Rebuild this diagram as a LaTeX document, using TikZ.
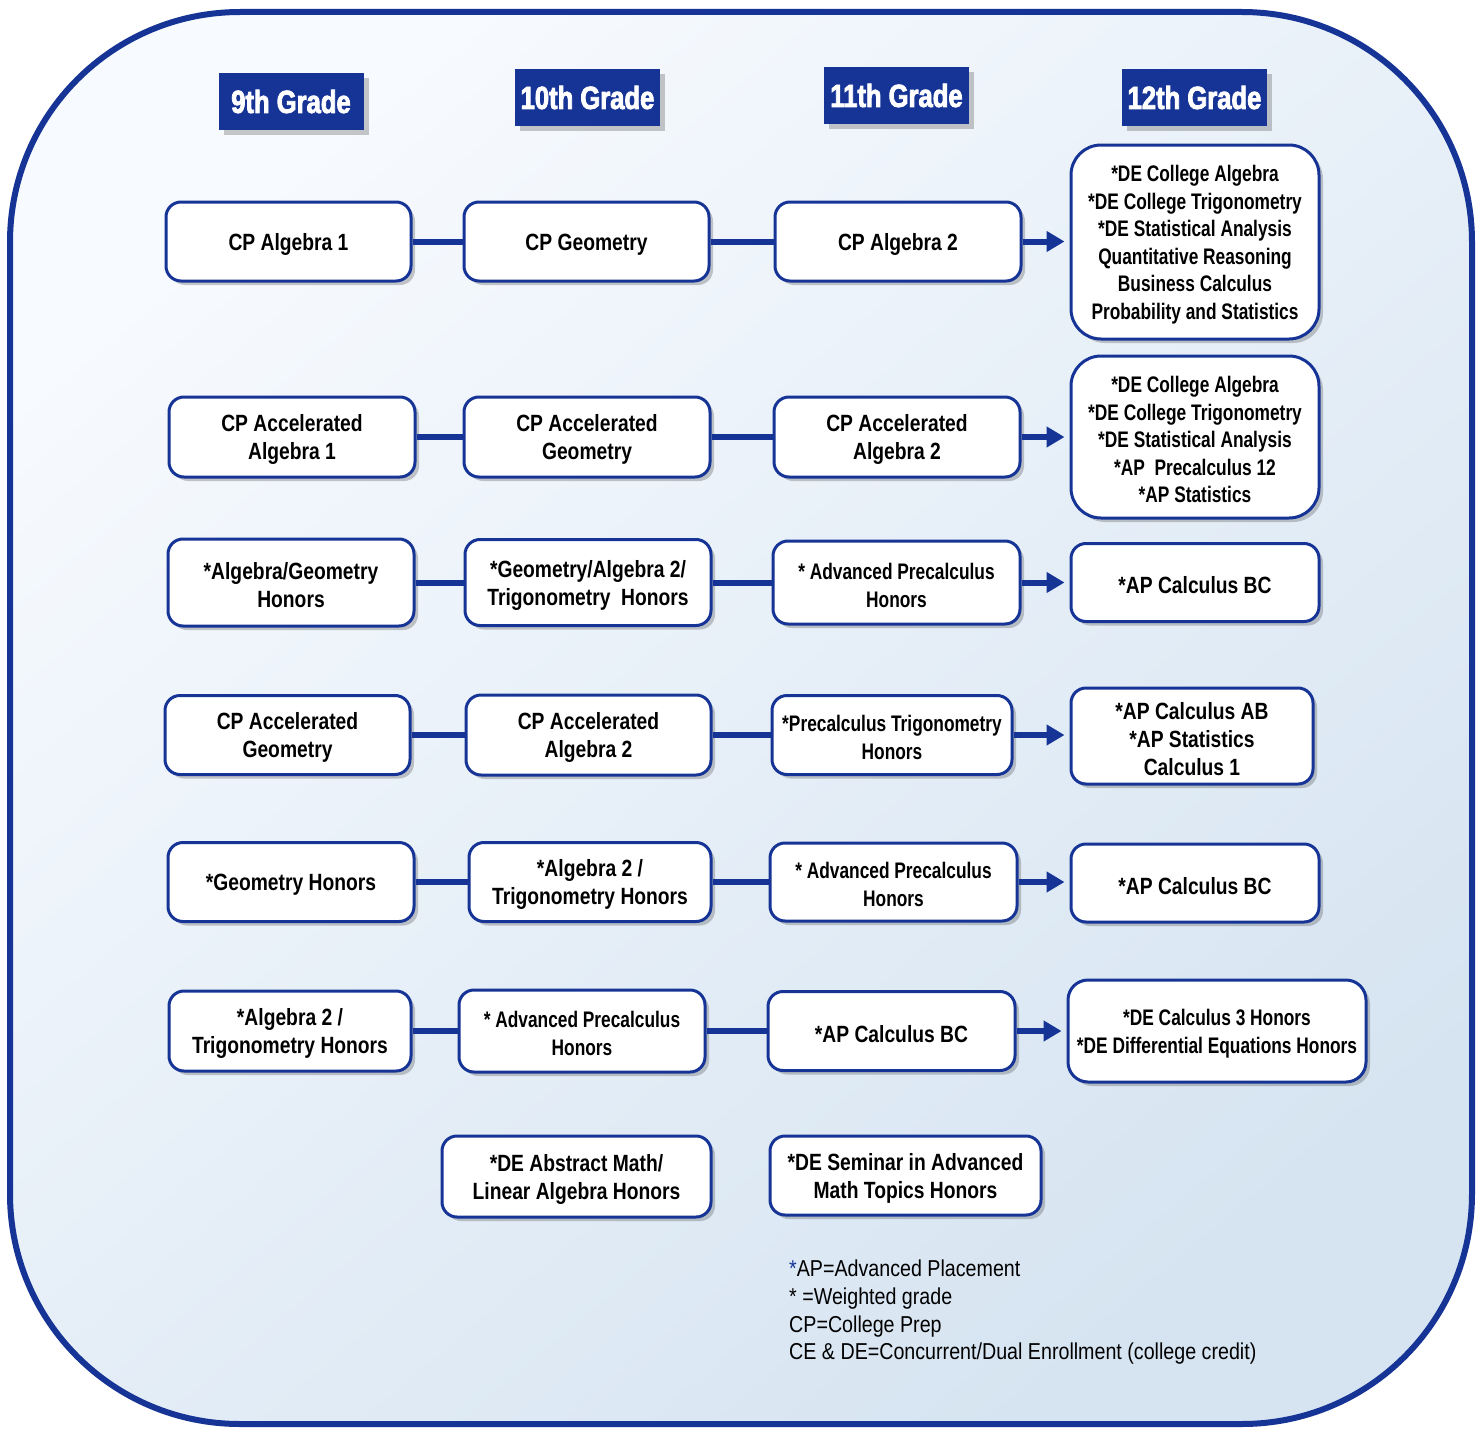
\documentclass[tikz,border=0pt]{standalone}
\usepackage{fontspec}
\setmainfont{Liberation Sans}
\newfontfamily\boxfont[FakeStretch=0.82]{Liberation Sans}
\newfontfamily\nbfont[FakeStretch=0.77]{Liberation Sans}
\newfontfamily\hdfont[FakeStretch=0.80,FakeBold=2.5]{Liberation Sans}
\newfontfamily\lgfont[FakeStretch=0.855]{Liberation Sans}
\usetikzlibrary{shadows,arrows.meta}
\definecolor{navy}{RGB}{22,52,150}
\definecolor{bgA}{RGB}{247,250,254}
\definecolor{bgB}{RGB}{214,228,241}
\newcommand\bstrut{\rule{0pt}{22.4pt}}
\newcommand\nstrut{\rule{0pt}{21.8pt}}
\tikzset{
  course/.style={draw=navy, line width=3pt, fill=white, rounded corners=15pt,
    align=center, inner sep=0pt,
    font=\boxfont\bfseries\fontsize{23.5}{28}\selectfont,
    drop shadow={shadow xshift=4pt, shadow yshift=-4pt, opacity=0.3, fill=black!70}},
  narrow/.style={font=\nbfont\bfseries\fontsize{22.5}{27.6}\selectfont},
  hdr/.style={fill=navy, text=white, inner sep=0pt, minimum width=145pt, minimum height=57pt,
    font=\hdfont\bfseries\fontsize{32}{36}\selectfont,
    drop shadow={shadow xshift=5pt, shadow yshift=-5pt, opacity=0.3, fill=black!70}},
  link/.style={draw=navy, line width=6pt},
  arr/.style={link, -{Triangle[length=18pt,width=20pt]}, shorten >=5pt},
}
\begin{document}
\begin{tikzpicture}[x=1pt,y=-1pt]
\useasboundingbox (0,0) rectangle (1476,1429);
\fill[white] (0,0) rectangle (1476,1429);
\path[draw=navy, line width=6pt, rounded corners=230pt, top color=bgA, bottom color=bgB, shading angle=40]
  (10,12) rectangle (1472,1424);

% headers
\node[hdr] (h9)  at (291,101.5) {9th Grade};
\node[hdr] (h10) at (587.5,97.5) {10th Grade};
\node[hdr] (h11) at (896.5,95.5) {11th Grade};
\node[hdr] (h12) at (1194.5,97.5) {12th Grade};

% row 1
\node[course, minimum width=245pt, minimum height=79pt] (c11) at (288.5,241.5) {\bstrut CP Algebra 1};
\node[course, minimum width=245pt, minimum height=79pt] (c12) at (586.5,241.5) {\bstrut CP Geometry};
\node[course, minimum width=246pt, minimum height=79pt] (c13) at (898,241.5) {\bstrut CP Algebra 2};
\node[course, narrow, rounded corners=30pt, minimum width=248pt, minimum height=194pt] (c14) at (1195,242)
  {\nstrut*DE College Algebra\\*DE College Trigonometry\\*DE Statistical Analysis\\Quantitative Reasoning\\Business Calculus\\Probability and Statistics};

% row 2
\node[course, minimum width=246pt, minimum height=80pt] (c21) at (292,437) {\bstrut CP Accelerated\\Algebra 1};
\node[course, minimum width=246pt, minimum height=80pt] (c22) at (587,437) {\bstrut CP Accelerated\\Geometry};
\node[course, minimum width=246pt, minimum height=80pt] (c23) at (897,437) {\bstrut CP Accelerated\\Algebra 2};
\node[course, narrow, rounded corners=30pt, minimum width=248pt, minimum height=162pt] (c24) at (1195,437)
  {\nstrut*DE College Algebra\\*DE College Trigonometry\\*DE Statistical Analysis\\*AP\ \ Precalculus 12\\*AP Statistics};

% row 3
\node[course, minimum width=246pt, minimum height=87pt] (c31) at (291,582.5) {\bstrut*Algebra/Geometry\\Honors};
\node[course, minimum width=246pt, minimum height=86pt] (c32) at (588,582.5) {\bstrut*Geometry/Algebra 2/\\Trigonometry\ \ Honors};
\node[course, narrow, minimum width=247pt, minimum height=83pt] (c33) at (896.5,582.5) {\nstrut* Advanced Precalculus\\Honors};
\node[course, minimum width=248pt, minimum height=78pt] (c34) at (1195,582.5) {\bstrut*AP Calculus BC};

% row 4
\node[course, minimum width=245pt, minimum height=79pt] (c41) at (287.5,735) {\bstrut CP Accelerated\\Geometry};
\node[course, minimum width=245pt, minimum height=80pt] (c42) at (588.5,735) {\bstrut CP Accelerated\\Algebra 2};
\node[course, narrow, minimum width=240pt, minimum height=79pt] (c43) at (892,735) {\nstrut*Precalculus Trigonometry\\Honors};
\node[course, minimum width=242pt, minimum height=96pt] (c44) at (1192,736) {\bstrut*AP Calculus AB\\*AP Statistics\\Calculus 1};

% row 5
\node[course, minimum width=246pt, minimum height=79pt] (c51) at (291,882) {\bstrut*Geometry Honors};
\node[course, minimum width=242pt, minimum height=79pt] (c52) at (590,882) {\bstrut*Algebra 2 /\\Trigonometry Honors};
\node[course, narrow, minimum width=247pt, minimum height=78pt] (c53) at (893.5,882) {\nstrut* Advanced Precalculus\\Honors};
\node[course, minimum width=248pt, minimum height=78pt] (c54) at (1195,883) {\bstrut*AP Calculus BC};

% row 6
\node[course, minimum width=242pt, minimum height=80pt] (c61) at (290,1031) {\bstrut*Algebra 2 /\\Trigonometry Honors};
\node[course, narrow, minimum width=246pt, minimum height=82pt] (c62) at (582,1031) {\nstrut* Advanced Precalculus\\Honors};
\node[course, minimum width=247pt, minimum height=79pt] (c63) at (891.5,1031) {\bstrut*AP Calculus BC};
\node[course, narrow, rounded corners=20pt, minimum width=298pt, minimum height=102pt] (c64) at (1217,1031)
  {\nstrut*DE Calculus 3 Honors\\*DE Differential Equations Honors};

% row 7
\node[course, minimum width=269pt, minimum height=81pt] (c72) at (576.5,1176.5) {\bstrut*DE Abstract Math/\\Linear Algebra Honors};
\node[course, minimum width=271pt, minimum height=79pt] (c73) at (905.5,1175.5) {\bstrut*DE Seminar in Advanced\\Math Topics Honors};

% connectors
\foreach \r in {1,...,6}{
  \draw[link] (c\r1) -- (c\r2);
  \draw[link] (c\r2) -- (c\r3);
  \draw[arr]  (c\r3) -- (c\r3 -| c\r4.west);
}

% legend
\node[anchor=north west, align=left, inner sep=0pt,
  font=\lgfont\fontsize{23}{27.7}\selectfont] (legend) at (789,1260)
  {\textcolor{navy}{*}AP=Advanced Placement\\* =Weighted grade\\CP=College Prep\\CE \& DE=Concurrent/Dual Enrollment (college credit)};
\end{tikzpicture}
\end{document}
